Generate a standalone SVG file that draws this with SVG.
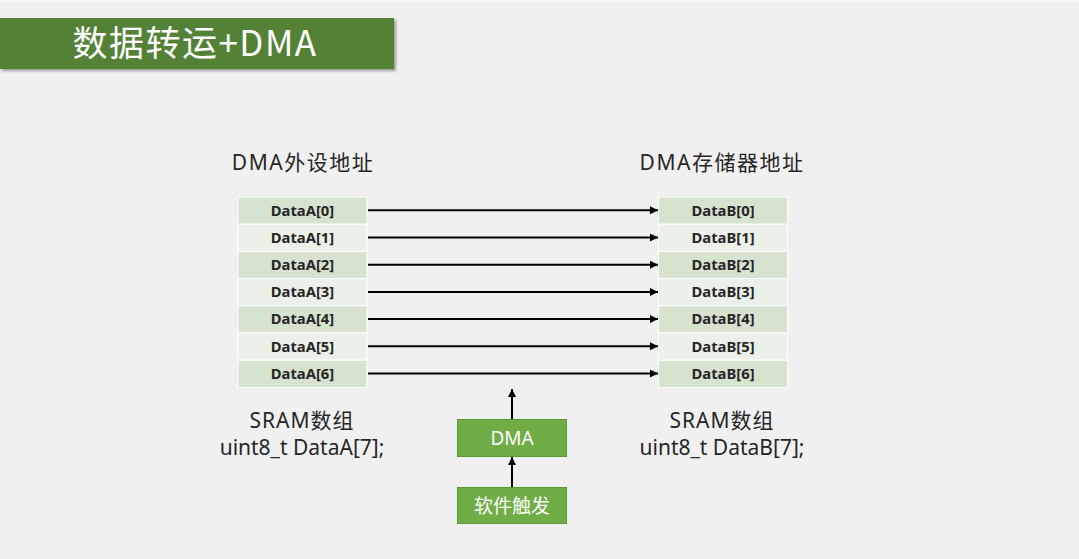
<svg xmlns="http://www.w3.org/2000/svg" width="1079" height="559" viewBox="0 0 1079 559">
<defs>
<marker id="ah" viewBox="0 0 10 10" refX="10" refY="5" markerWidth="4" markerHeight="4" orient="auto" markerUnits="strokeWidth">
<path d="M0,0 L10,5 L0,10 z" fill="#000"/>
</marker>
<filter id="sh" x="-5%" y="-20%" width="115%" height="150%">
<feDropShadow dx="2" dy="2" stdDeviation="1.5" flood-color="#000" flood-opacity="0.35"/>
</filter>
</defs>
<style>
.cell-a{fill:#d6e3cf;stroke:#ffffff;stroke-width:1}
.cell-b{fill:#ebf1e8;stroke:#ffffff;stroke-width:1}
.ct{font-family:"Noto Sans","Liberation Sans",sans-serif;font-weight:bold;font-size:14.8px;fill:#262626;text-anchor:middle}
.lbl{font-family:"Noto Sans","Noto Sans CJK SC",sans-serif;font-size:21px;fill:#262626;text-anchor:middle}
.box{fill:#70ad47;stroke:#5e9a3a;stroke-width:1}
.bt{font-family:"Noto Sans","Noto Sans CJK SC",sans-serif;font-size:19px;fill:#ffffff;text-anchor:middle}
.conn{stroke:#000;stroke-width:2;fill:none;marker-end:url(#ah)}
</style>
<rect width="1079" height="559" fill="#f0f0f0"/>
<rect width="1079" height="2" fill="#f7f7f7"/>
<g id="title">
<rect x="0" y="18" width="394" height="51" fill="#538135" filter="url(#sh)"/>
<text x="195" y="56" font-family="Noto Sans CJK SC,Noto Sans,sans-serif" font-size="35" letter-spacing="1.5" fill="#ffffff" text-anchor="middle">数据转运+DMA</text>
</g>
<g id="label-a"><text class="lbl" x="303" y="170" letter-spacing="1.5">DMA外设地址</text></g>
<g id="label-b"><text class="lbl" x="722" y="170" letter-spacing="1.5">DMA存储器地址</text></g>
<g id="array-a">
<rect class="cell-a" x="238" y="197" width="129" height="27.2"/>
<rect class="cell-b" x="238" y="224.2" width="129" height="27.2"/>
<rect class="cell-a" x="238" y="251.4" width="129" height="27.2"/>
<rect class="cell-b" x="238" y="278.6" width="129" height="27.2"/>
<rect class="cell-a" x="238" y="305.8" width="129" height="27.2"/>
<rect class="cell-b" x="238" y="333" width="129" height="27.2"/>
<rect class="cell-a" x="238" y="360.2" width="129" height="27.2"/>
<text class="ct" x="302.5" y="215.5">DataA[0]</text>
<text class="ct" x="302.5" y="242.7">DataA[1]</text>
<text class="ct" x="302.5" y="269.9">DataA[2]</text>
<text class="ct" x="302.5" y="297.1">DataA[3]</text>
<text class="ct" x="302.5" y="324.3">DataA[4]</text>
<text class="ct" x="302.5" y="351.5">DataA[5]</text>
<text class="ct" x="302.5" y="378.7">DataA[6]</text>
</g>
<g id="array-b">
<rect class="cell-a" x="658.5" y="197" width="129" height="27.2"/>
<rect class="cell-b" x="658.5" y="224.2" width="129" height="27.2"/>
<rect class="cell-a" x="658.5" y="251.4" width="129" height="27.2"/>
<rect class="cell-b" x="658.5" y="278.6" width="129" height="27.2"/>
<rect class="cell-a" x="658.5" y="305.8" width="129" height="27.2"/>
<rect class="cell-b" x="658.5" y="333" width="129" height="27.2"/>
<rect class="cell-a" x="658.5" y="360.2" width="129" height="27.2"/>
<text class="ct" x="723" y="215.5">DataB[0]</text>
<text class="ct" x="723" y="242.7">DataB[1]</text>
<text class="ct" x="723" y="269.9">DataB[2]</text>
<text class="ct" x="723" y="297.1">DataB[3]</text>
<text class="ct" x="723" y="324.3">DataB[4]</text>
<text class="ct" x="723" y="351.5">DataB[5]</text>
<text class="ct" x="723" y="378.7">DataB[6]</text>
</g>
<g id="caption-a">
<text class="lbl" x="302" y="428" letter-spacing="1">SRAM数组</text>
<text class="lbl" x="302" y="455">uint8_t DataA[7];</text>
</g>
<g id="caption-b">
<text class="lbl" x="722" y="428" letter-spacing="1">SRAM数组</text>
<text class="lbl" x="722" y="455">uint8_t DataB[7];</text>
</g>
<g id="dma">
<rect class="box" x="457.5" y="419.5" width="109" height="37"/>
<text class="bt" x="512" y="444.5">DMA</text>
</g>
<g id="trigger">
<rect class="box" x="457.5" y="487.5" width="109" height="36"/>
<text class="bt" x="512" y="512.5" font-size="20">软件触发</text>
</g>
<g id="connectors">
<line class="conn" x1="368" y1="210.3" x2="658" y2="210.3"/>
<line class="conn" x1="368" y1="237.5" x2="658" y2="237.5"/>
<line class="conn" x1="368" y1="264.7" x2="658" y2="264.7"/>
<line class="conn" x1="368" y1="291.9" x2="658" y2="291.9"/>
<line class="conn" x1="368" y1="319.1" x2="658" y2="319.1"/>
<line class="conn" x1="368" y1="346.3" x2="658" y2="346.3"/>
<line class="conn" x1="368" y1="373.5" x2="658" y2="373.5"/>
<line class="conn" x1="512" y1="419" x2="512" y2="389"/>
<line class="conn" x1="512" y1="487" x2="512" y2="457"/>
</g>
</svg>
